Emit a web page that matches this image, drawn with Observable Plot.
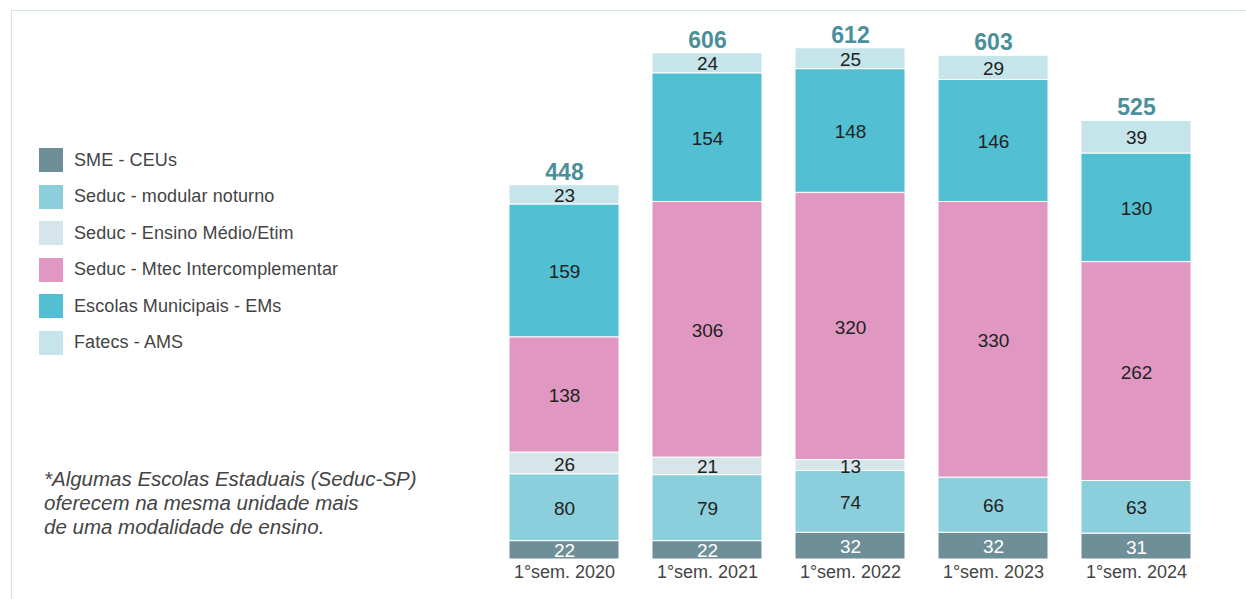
<!DOCTYPE html>
<html>
<head>
<meta charset="utf-8">
<script src="https://cdn.jsdelivr.net/npm/d3@7"></script>
<script src="https://cdn.jsdelivr.net/npm/@observablehq/plot@0.6"></script>
<style>
  html, body { margin: 0; padding: 0; background: #fff; }
  body { width: 1246px; height: 599px; position: relative; overflow: hidden; font-family: "Liberation Sans", Arial, sans-serif; }
  #frame { position: absolute; left: 11px; top: 10px; width: 1240px; height: 600px; border-top: 1.5px solid #d3e5ea; border-left: 1.5px solid #d3e5ea; box-sizing: border-box; }
  #chart { position: absolute; left: 0; top: 0; }
  #legend { position: absolute; left: 39px; top: 148px; }
  .item { display: flex; align-items: center; height: 24px; margin-bottom: 12.5px; }
  .sw { width: 24px; height: 24px; margin-right: 11px; }
  .lab { font-size: 18px; color: #444; letter-spacing: 0.1px; }
  #note { position: absolute; left: 44px; top: 467px; font-size: 20.5px; font-style: italic; color: #444; line-height: 24px; }
</style>
</head>
<body>
<div id="frame"></div>
<div id="chart"></div>
<div id="legend"></div>
<div id="note">*Algumas Escolas Estaduais (Seduc-SP)<br>oferecem na mesma unidade mais<br>de uma modalidade de ensino.</div>
<script>
const periods = ["1°sem. 2020", "1°sem. 2021", "1°sem. 2022", "1°sem. 2023", "1°sem. 2024"];
const seriesNames = ["SME - CEUs", "Seduc - modular noturno", "Seduc - Ensino Médio/Etim", "Seduc - Mtec Intercomplementar", "Escolas Municipais - EMs", "Fatecs - AMS"];
const seriesColors = ["#6e8f97", "#8bcfdc", "#d6e5ea", "#e098c3", "#52bfd3", "#c5e5ea"];
const smeCeus = [22, 22, 32, 32, 31];
const modularNoturno = [80, 79, 74, 66, 63];
const ensinoMedio = [26, 21, 13, 0, 0];
const mtec = [138, 306, 320, 330, 262];
const escolasMunicipais = [159, 154, 148, 146, 130];
const fatecs = [23, 24, 25, 29, 39];
const totals = [448, 606, 612, 603, 525];

const seriesValues = [smeCeus, modularNoturno, ensinoMedio, mtec, escolasMunicipais, fatecs];
const rows = [];
periods.forEach((p, i) => {
  seriesNames.forEach((s, j) => rows.push({period: p, series: s, value: seriesValues[j][i]}));
});
const totalRows = periods.map((p, i) => ({period: p, total: totals[i]}));

const chart = Plot.plot({
  width: 1246,
  height: 599,
  marginLeft: 476,
  marginRight: 22,
  marginTop: 16,
  marginBottom: 40,
  style: {fontFamily: "'Liberation Sans', Arial, sans-serif", background: "transparent"},
  x: {domain: periods, padding: 0.23, label: null, tickSize: 0},
  y: {domain: [0, 650], axis: null},
  color: {domain: seriesNames, range: seriesColors},
  marks: [
    Plot.barY(rows, Plot.stackY({x: "period", y: "value", z: "series", fill: "series", stroke: "white", strokeWidth: 1, order: null})),
    Plot.text(rows, Plot.stackY({x: "period", y: "value", z: "series", order: null,
      text: d => d.series === seriesNames[0] ? String(d.value) : null,
      fill: "white", fontSize: 19, dy: 1})),
    Plot.text(rows, Plot.stackY({x: "period", y: "value", z: "series", order: null,
      text: d => (d.series !== seriesNames[0] && d.value > 0) ? String(d.value) : null,
      fill: "#222", fontSize: 19, dy: 1})),
    Plot.text(totalRows, {x: "period", y: "total", text: d => String(d.total), dy: -13, fill: "#4b8f9b", fontSize: 23, fontWeight: "bold"}),
    Plot.axisX({tickSize: 0, tickPadding: 6, fontSize: 18, color: "#444", label: null})
  ]
});
document.getElementById("chart").appendChild(chart);

const legend = document.getElementById("legend");
seriesNames.forEach((s, j) => {
  const item = document.createElement("div");
  item.className = "item";
  item.innerHTML = `<div class="sw" style="background:${seriesColors[j]}"></div><div class="lab">${s}</div>`;
  legend.appendChild(item);
});
</script>
</body>
</html>
